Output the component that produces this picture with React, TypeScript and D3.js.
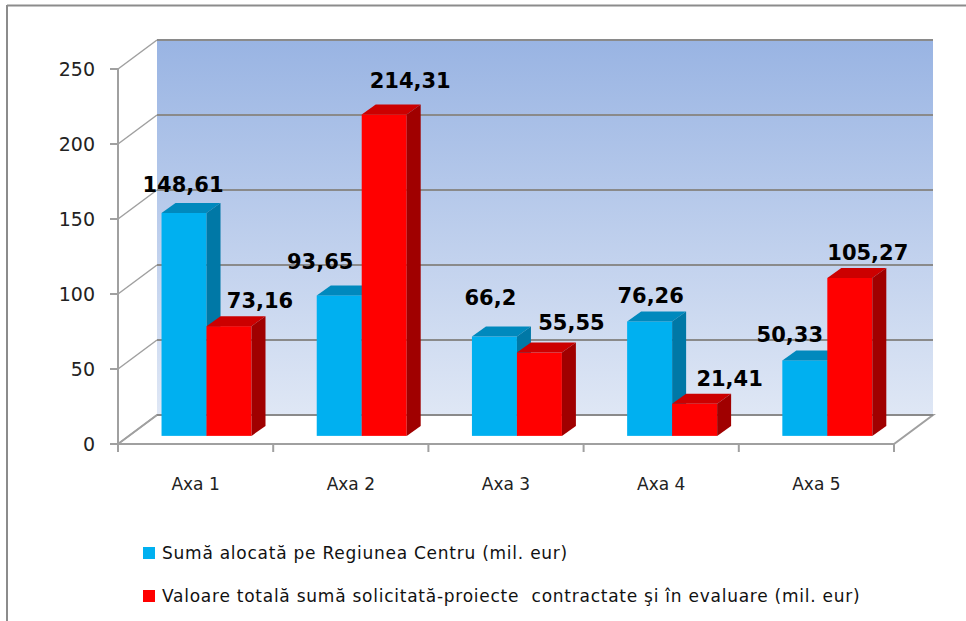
import React from 'react';
import * as d3 from 'd3';

const categories = ['Axa 1', 'Axa 2', 'Axa 3', 'Axa 4', 'Axa 5'];
const sumaAlocata = [148.61, 93.65, 66.2, 76.26, 50.33];
const valoareSolicitata = [73.16, 214.31, 55.55, 21.41, 105.27];
const yTicks = [0, 50, 100, 150, 200, 250];
const seriesNames = [
  'Sumă alocată pe Regiunea Centru (mil. eur)',
  'Valoare totală sumă solicitată-proiecte  contractate şi în evaluare (mil. eur)',
];

const W = 966;
const H = 621;

// 3D projection of the plot box
const depth = { dx: 39, dy: -29 };
const barDepth = { dx: 14, dy: -10 };
const barZ = 0.28; // where bar front faces sit inside the floor depth

// label nudges, the labels in the original were dragged by hand
const nudgeA = [[-8, -3], [-26, -8], [-11, -14], [-6, 0], [-22, 0]];
const nudgeB = [[24, 0], [19, -8], [25, -5], [28, 0], [11, 0]];

const fmt = (v: number) => String(v).replace('.', ',');

const App = () => {
  const x = d3.scaleBand().domain(categories).range([118, 894]);
  const y = d3.scaleLinear().domain([0, 250]).range([444, 69]);
  const inner = d3
    .scaleBand()
    .domain(['a', 'b'])
    .range([0, x.bandwidth()])
    .paddingOuter(0.725);

  const y0 = y(0);
  const offX = depth.dx * barZ;
  const offY = depth.dy * barZ;
  const x0 = x.range()[0];
  const x1 = x.range()[1];

  const colors = {
    a: { face: '#00b0f0', top: '#0089bd', side: '#0078a6' },
    b: { face: '#ff0000', top: '#cc0000', side: '#a00000' },
  };

  const bar = (key: 'a' | 'b', cat: string, v: number, i: number, nudge: number[][]) => {
    const c = colors[key];
    const bx = (x(cat) as number) + (inner(key) as number) + offX;
    const bw = inner.bandwidth();
    const by = y(v) + offY;
    const bb = y0 + offY;
    const { dx, dy } = barDepth;
    const h = bb - by;
    return (
      <g key={key + cat}>
        <rect x={bx} y={by} width={bw} height={h} fill={c.face} />
        <polygon
          points={`${bx},${by} ${bx + dx},${by + dy} ${bx + bw + dx},${by + dy} ${bx + bw},${by}`}
          fill={c.top}
        />
        <polygon
          points={`${bx + bw},${by} ${bx + bw + dx},${by + dy} ${bx + bw + dx},${bb + dy} ${bx + bw},${bb}`}
          fill={c.side}
        />
        <text
          x={bx + (bw + dx) / 2 + nudge[i][0]}
          y={by + dy - 8 + nudge[i][1]}
          textAnchor="middle"
          fontFamily="DejaVu Sans"
          fontWeight="bold"
          fontSize={21}
          fill="#000"
        >
          {fmt(v)}
        </text>
      </g>
    );
  };

  return (
    <svg
      width={W}
      height={H}
      style={{ position: 'absolute', left: 0, top: 0, background: '#fff' }}
    >
      <defs>
        <linearGradient id="wall" x1="0" y1="0" x2="0" y2="1">
          <stop offset="0%" stopColor="#99b4e3" />
          <stop offset="100%" stopColor="#dfe7f5" />
        </linearGradient>
      </defs>

      {/* outer frame */}
      <line x1={7} y1={5.5} x2={W} y2={5.5} stroke="#8c8c8c" strokeWidth={2} />
      <line x1={7} y1={5} x2={7} y2={H} stroke="#8c8c8c" strokeWidth={2} />

      {/* back wall */}
      <rect
        x={x0 + depth.dx}
        y={y(250) + depth.dy}
        width={x1 - x0}
        height={y0 - y(250)}
        fill="url(#wall)"
      />

      {/* floor */}
      <polygon
        points={`${x0},${y0} ${x0 + depth.dx},${y0 + depth.dy} ${x1 + depth.dx},${y0 + depth.dy} ${x1},${y0}`}
        fill="#fff"
        stroke="#a0a0a0"
        strokeWidth={2}
      />

      {/* gridlines on back wall and left side wall */}
      {yTicks.map(t => (
        <g key={t}>
          <line
            x1={x0}
            y1={y(t)}
            x2={x0 + depth.dx}
            y2={y(t) + depth.dy}
            stroke="#a0a0a0"
            strokeWidth={1.5}
          />
          <line
            x1={x0 + depth.dx}
            y1={y(t) + depth.dy}
            x2={x1 + depth.dx}
            y2={y(t) + depth.dy}
            stroke="#8a8a8a"
            strokeWidth={2}
          />
        </g>
      ))}

      {/* y axis */}
      <line x1={x0} y1={y(250)} x2={x0} y2={y0} stroke="#a0a0a0" strokeWidth={2} />
      {yTicks.map(t => (
        <g key={'t' + t}>
          <line x1={x0 - 8} y1={y(t)} x2={x0} y2={y(t)} stroke="#a0a0a0" strokeWidth={2} />
          <text
            x={95}
            y={y(t) + 7}
            textAnchor="end"
            fontFamily="DejaVu Sans"
            fontSize={19}
            fill="#222"
          >
            {t}
          </text>
        </g>
      ))}

      {/* x axis */}
      <line x1={x0} y1={y0} x2={x1} y2={y0} stroke="#a0a0a0" strokeWidth={2} />
      {[...categories.map(c => x(c) as number), x1].map((px, i) => (
        <line key={'xt' + i} x1={px} y1={y0} x2={px} y2={y0 + 8} stroke="#a0a0a0" strokeWidth={2} />
      ))}
      {categories.map(c => (
        <text
          key={'xl' + c}
          x={(x(c) as number) + x.bandwidth() / 2}
          y={490}
          textAnchor="middle"
          fontFamily="DejaVu Sans"
          fontSize={17}
          fill="#222"
        >
          {c}
        </text>
      ))}

      {/* bars */}
      {categories.map((c, i) => (
        <g key={'bars' + c}>
          {bar('a', c, sumaAlocata[i], i, nudgeA)}
          {bar('b', c, valoareSolicitata[i], i, nudgeB)}
        </g>
      ))}

      {/* legend */}
      {seriesNames.map((name, i) => (
        <g key={name} transform={`translate(143, ${547 + i * 43})`}>
          <rect width={12} height={12} fill={i === 0 ? colors.a.face : colors.b.face} />
          <text
            x={19}
            y={12}
            fontFamily="DejaVu Sans"
            fontSize={17}
            letterSpacing={0.75}
            fill="#111"
            style={{ whiteSpace: 'pre' }}
          >
            {name}
          </text>
        </g>
      ))}
    </svg>
  );
};

export default App;
